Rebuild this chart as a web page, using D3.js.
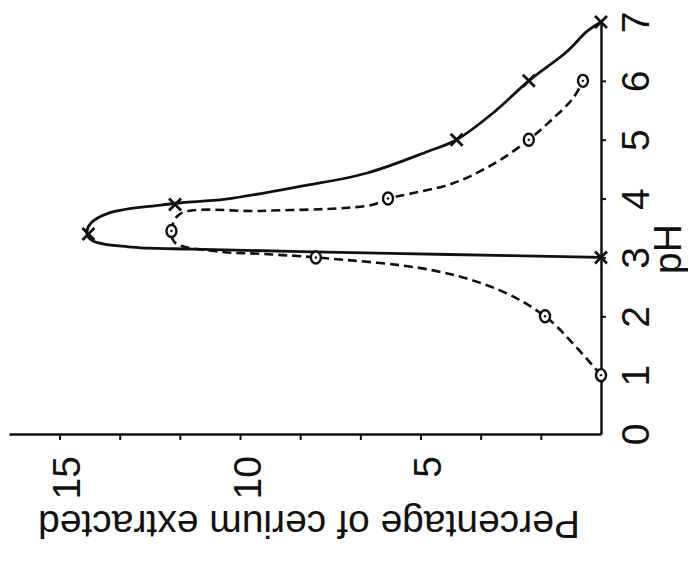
<!DOCTYPE html>
<html>
<head>
<meta charset="utf-8">
<script src="https://cdn.jsdelivr.net/npm/d3@7"></script>
<style>
body { margin: 0; background: #fff; }
text { font-family: "Liberation Sans", Arial, sans-serif; fill: #111; }
</style>
</head>
<body>
<script>
// measured points, crosses (solid curve)
let crossPH = [3, 3.4, 3.9, 5, 6, 7]
let crossPct = [0, 14.2, 11.8, 4.0, 2.0, 0]

// measured points, circles (dashed curve)
let circlePH = [1, 2, 3, 3.45, 4, 5, 6]
let circlePct = [0, 1.55, 7.9, 11.9, 5.9, 2.0, 0.5]

// the hand drawn curves in drawing order
let solidPH = [3.0, 3.05, 3.1, 3.14, 3.18, 3.28, 3.4, 3.57, 3.76, 3.89, 3.93, 3.99, 4.21, 4.43, 4.8, 5.0, 5.45, 6.0, 6.5, 6.84, 7.0]
let solidPct = [0, 4.2, 8.3, 11.3, 13.1, 14.07, 14.24, 14.15, 13.6, 12.2, 11.6, 10.4, 8.3, 6.5, 4.8, 4.0, 3.0, 2.0, 0.94, 0.39, 0]
let dashedPH = [1.0, 1.54, 2.0, 2.44, 2.78, 3.0, 3.06, 3.1, 3.25, 3.45, 3.74, 3.79, 3.84, 3.9, 4.0, 4.08, 4.26, 4.58, 5.0, 5.36, 5.7, 6.0]
let dashedPct = [0, 0.78, 1.55, 2.8, 4.65, 7.9, 9.4, 10.6, 11.8, 11.9, 11.66, 9.45, 7.1, 6.3, 5.9, 5.3, 4.1, 3.0, 2.0, 1.33, 0.78, 0.5]

let phTicks = [0, 1, 2, 3, 4, 5, 6, 7]
let pctTicks = [5/3, 10/3, 5, 20/3, 25/3, 10, 35/3, 40/3, 15]
let pctLabels = [5, 10, 15]

let w = 688
let h = 564

// the figure is printed on its side: pH runs upward, percentage runs to the left
let ph = d3.scaleLinear().domain([0, 7]).range([434, 22])
let pct = d3.scaleLinear().domain([0, 16.4]).range([601, 9])

let svg = d3.select('body').append('svg').attr('width', w).attr('height', h)

// pH axis
let phAxis = svg.append('g').attr('transform', 'translate(601,0)')
  .call(d3.axisRight(ph).tickValues(phTicks).tickSize(5).tickSizeOuter(0).tickFormat(d3.format('d')))
phAxis.select('.domain').attr('stroke', '#111').attr('stroke-width', 2.5)
phAxis.selectAll('.tick line').attr('stroke', '#111').attr('stroke-width', 2)
  .attr('display', d => (d === 0 || d === 7) ? 'none' : null)
phAxis.selectAll('.tick text')
  .attr('x', 0).attr('y', 0).attr('dy', 0)
  .attr('text-anchor', 'middle')
  .attr('transform', 'translate(48,0) rotate(-90)')
  .style('font-size', '39px')

// percentage axis
let pctAxis = svg.append('g').attr('transform', 'translate(0,434)')
  .call(d3.axisBottom(pct).tickValues(pctTicks).tickSize(6).tickSizeOuter(0)
    .tickFormat(d => {
      let l = pctLabels.find(v => Math.abs(v - d) < 1e-6)
      return l === undefined ? '' : l
    }))
pctAxis.select('.domain').attr('stroke', '#111').attr('stroke-width', 2.5)
pctAxis.selectAll('.tick line').attr('stroke', '#111').attr('stroke-width', 2)
pctAxis.selectAll('.tick text')
  .attr('x', 0).attr('y', 0).attr('dy', 0)
  .attr('text-anchor', 'end')
  .attr('transform', 'translate(20,22) rotate(-90)')
  .style('font-size', '39px')

// axis titles
svg.append('text')
  .attr('text-anchor', 'middle')
  .attr('transform', 'translate(681,249) rotate(-90)')
  .style('font-size', '39px')
  .text('pH')

svg.append('text')
  .attr('text-anchor', 'middle')
  .attr('transform', 'translate(309,511) rotate(180)')
  .style('font-size', '39px')
  .text('Percentage of cerium extracted')

// curves
let line = d3.line()
  .x(d => pct(d[1]))
  .y(d => ph(d[0]))
  .curve(d3.curveCatmullRom.alpha(0.5))

svg.append('path')
  .datum(d3.zip(dashedPH, dashedPct))
  .attr('d', line)
  .attr('fill', 'none')
  .attr('stroke', '#111')
  .attr('stroke-width', 2.6)
  .attr('stroke-dasharray', '9,5')

svg.append('path')
  .datum(d3.zip(solidPH, solidPct))
  .attr('d', line)
  .attr('fill', 'none')
  .attr('stroke', '#111')
  .attr('stroke-width', 2.8)

// circle markers
let circles = svg.selectAll('g.circ')
  .data(d3.zip(circlePH, circlePct))
  .enter()
  .append('g')
  .attr('class', 'circ')
  .attr('transform', d => 'translate(' + pct(d[1]) + ',' + ph(d[0]) + ')')
circles.append('ellipse').attr('rx', 5).attr('ry', 6)
  .attr('fill', '#fff').attr('stroke', '#111').attr('stroke-width', 2.4)
circles.append('circle').attr('r', 1.2).attr('fill', '#111')

// cross markers
let s = 6
svg.selectAll('path.cross')
  .data(d3.zip(crossPH, crossPct))
  .enter()
  .append('path')
  .attr('class', 'cross')
  .attr('d', d => {
    let x = pct(d[1]), y = ph(d[0])
    return 'M' + (x - s) + ',' + (y - s) + 'L' + (x + s) + ',' + (y + s) +
      'M' + (x - s) + ',' + (y + s) + 'L' + (x + s) + ',' + (y - s)
  })
  .attr('stroke', '#111')
  .attr('stroke-width', 2.8)
</script>
</body>
</html>
